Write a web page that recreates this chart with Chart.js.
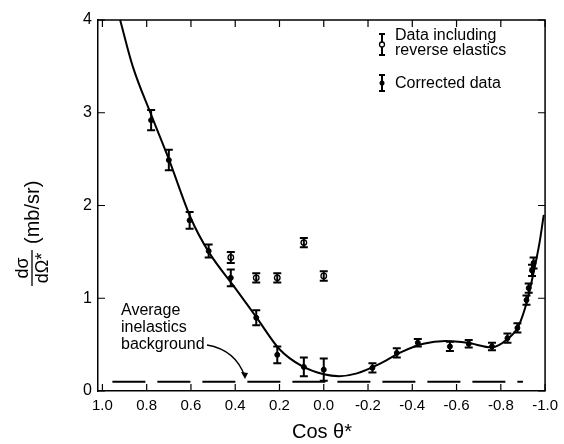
<!DOCTYPE html>
<html>
<head>
<meta charset="utf-8">
<script src="https://cdn.jsdelivr.net/npm/chart.js@4.4.0/dist/chart.umd.min.js"></script>
<style>
  html, body { margin: 0; padding: 0; background: #fff; }
  #wrap { width: 564px; height: 444px; position: relative; }
</style>
</head>
<body>
<div id="wrap"><canvas id="c" width="564" height="444"></canvas></div>
<script>
// corrected data (filled points)
const corrCos = [0.78, 0.70, 0.606, 0.52, 0.42, 0.305, 0.21, 0.09, 0.0, -0.22, -0.33, -0.425, -0.57, -0.655, -0.76, -0.83, -0.875, -0.916, -0.926, -0.941, -0.948];
const corrVal = [2.92, 2.49, 1.84, 1.51, 1.22, 0.79, 0.39, 0.26, 0.23, 0.25, 0.41, 0.52, 0.48, 0.51, 0.48, 0.57, 0.68, 0.98, 1.11, 1.30, 1.38];
const corrErr = [0.11, 0.11, 0.09, 0.07, 0.09, 0.08, 0.09, 0.10, 0.12, 0.05, 0.05, 0.04, 0.05, 0.04, 0.04, 0.05, 0.05, 0.05, 0.05, 0.06, 0.06];

// data including reverse elastics (open points)
const revCos = [0.42, 0.305, 0.21, 0.09, 0.0];
const revVal = [1.44, 1.22, 1.22, 1.60, 1.24];
const revErr = [0.06, 0.05, 0.05, 0.05, 0.05];

// fitted curve
const fitCos = [0.92, 0.863, 0.78, 0.70, 0.60, 0.52, 0.40, 0.30, 0.20, 0.10, 0.0, -0.07, -0.15, -0.25, -0.35, -0.45, -0.55, -0.65, -0.76, -0.83, -0.88, -0.92, -0.95, -0.975, -0.994];
const fitVal = [4.0, 3.50, 2.98, 2.50, 1.86, 1.50, 1.11, 0.78, 0.45, 0.27, 0.18, 0.16, 0.19, 0.29, 0.42, 0.51, 0.54, 0.52, 0.47, 0.56, 0.70, 0.98, 1.30, 1.60, 1.90];

// average inelastics background
const bgCos = [0.955, -0.90];
const bgVal = [0.10, 0.10];

const xTicks = [1.0, 0.8, 0.6, 0.4, 0.2, 0.0, -0.2, -0.4, -0.6, -0.8, -1.0];
const yTicks = [0, 1, 2, 3, 4];

const FONT = '"Liberation Sans", "DejaVu Sans", sans-serif';

function pts(xs, ys) { return xs.map((x, i) => ({ x: x, y: ys[i] })); }

// error bars + inward ticks + labels
const extras = {
  id: 'extras',
  afterDatasetsDraw(chart) {
    const ctx = chart.ctx, xs = chart.scales.x, ys = chart.scales.y, a = chart.chartArea;
    ctx.save();
    ctx.strokeStyle = '#000';
    ctx.lineWidth = 2;
    function bars(cs, vs, es) {
      cs.forEach((c, i) => {
        const px = xs.getPixelForValue(c);
        const t = ys.getPixelForValue(vs[i] + es[i]);
        const b = ys.getPixelForValue(vs[i] - es[i]);
        ctx.beginPath();
        ctx.moveTo(px, t); ctx.lineTo(px, b);
        ctx.moveTo(px - 4, t); ctx.lineTo(px + 4, t);
        ctx.moveTo(px - 4, b); ctx.lineTo(px + 4, b);
        ctx.stroke();
      });
    }
    bars(corrCos, corrVal, corrErr);
    bars(revCos, revVal, revErr);

    // inward ticks
    ctx.lineWidth = 1.2;
    ctx.beginPath();
    xTicks.forEach(v => {
      const px = xs.getPixelForValue(v);
      ctx.moveTo(px, a.bottom); ctx.lineTo(px, a.bottom - 7);
      ctx.moveTo(px, a.top); ctx.lineTo(px, a.top + 7);
    });
    yTicks.forEach(v => {
      const py = ys.getPixelForValue(v);
      ctx.moveTo(a.left, py); ctx.lineTo(a.left + 7, py);
      ctx.moveTo(a.right, py); ctx.lineTo(a.right - 7, py);
    });
    ctx.stroke();

    // legend
    ctx.fillStyle = '#000';
    ctx.font = '16px ' + FONT;
    ctx.textBaseline = 'alphabetic';
    ctx.fillText('Data including', 395, 40);
    ctx.fillText('reverse elastics', 395, 55);
    ctx.fillText('Corrected data', 395, 88);
    ctx.lineWidth = 2;
    function glyph(x, y1, y2, open) {
      ctx.beginPath();
      ctx.moveTo(x, y1); ctx.lineTo(x, y2);
      ctx.moveTo(x - 3, y1); ctx.lineTo(x + 3, y1);
      ctx.moveTo(x - 3, y2); ctx.lineTo(x + 3, y2);
      ctx.stroke();
      ctx.beginPath();
      ctx.arc(x, (y1 + y2) / 2, 2.5, 0, Math.PI * 2);
      if (open) { ctx.fillStyle = '#fff'; ctx.fill(); ctx.lineWidth = 1.3; ctx.stroke(); ctx.lineWidth = 2; }
      else { ctx.fillStyle = '#000'; ctx.fill(); }
    }
    glyph(382, 34, 55, true);
    glyph(382, 75, 91, false);

    ctx.fillStyle = '#000';
    ctx.font = '16px ' + FONT;
    ctx.fillText('Average', 121, 315);
    ctx.fillText('inelastics', 121, 332);
    ctx.fillText('background', 121, 349);
    // arrow to background line
    ctx.lineWidth = 1.3;
    ctx.beginPath();
    ctx.moveTo(207, 345);
    ctx.quadraticCurveTo(236, 350, 245, 377);
    ctx.stroke();
    ctx.beginPath();
    ctx.moveTo(245, 379); ctx.lineTo(241, 372); ctx.lineTo(248, 373); ctx.closePath();
    ctx.fill();

    // x axis title
    ctx.font = '20px ' + FONT;
    ctx.textAlign = 'center';
    ctx.fillText('Cos \u03b8*', 322, 438);

    // y axis title, rotated
    ctx.translate(32, 226);
    ctx.rotate(-Math.PI / 2);
    ctx.font = '18px ' + FONT;
    ctx.textAlign = 'center';
    ctx.fillText('d\u03c3', -42, -4);
    ctx.fillText('d\u03a9*', -42, 16);
    ctx.lineWidth = 1.3;
    ctx.beginPath(); ctx.moveTo(-60, 0); ctx.lineTo(-24, 0); ctx.stroke();
    ctx.textAlign = 'left';
    ctx.font = '20px ' + FONT;
    ctx.fillText('(mb/sr)', -18, 7);
    ctx.restore();
  }
};

const ctx = document.getElementById('c').getContext('2d');
new Chart(ctx, {
  type: 'scatter',
  data: {
    datasets: [
      {
        label: 'Fit',
        data: pts(fitCos, fitVal),
        showLine: true,
        borderColor: '#000',
        borderWidth: 2,
        pointRadius: 0,
        tension: 0.4,
        cubicInterpolationMode: 'monotone'
      },
      {
        label: 'Average inelastics background',
        data: pts(bgCos, bgVal),
        showLine: true,
        borderColor: '#000',
        borderWidth: 2,
        borderDash: [33, 12],
        pointRadius: 0
      },
      {
        label: 'Corrected data',
        data: pts(corrCos, corrVal),
        pointRadius: 2.5,
        pointBackgroundColor: '#000',
        pointBorderColor: '#000'
      },
      {
        label: 'Data including reverse elastics',
        data: pts(revCos, revVal),
        pointRadius: 2.8,
        pointBackgroundColor: '#fff',
        pointBorderColor: '#000',
        pointBorderWidth: 1.3
      }
    ]
  },
  options: {
    responsive: false,
    animation: false,
    clip: false,
    layout: { padding: { top: 20, right: 9, left: 0, bottom: 0 } },
    plugins: { legend: { display: false }, tooltip: { enabled: false } },
    scales: {
      x: {
        type: 'linear',
        min: -1.0,
        max: 1.02,
        reverse: true,
        afterFit(s) { s.height = 53; },
        afterBuildTicks(s) { s.ticks = xTicks.map(v => ({ value: v })); },
        grid: { display: false, drawTicks: false },
        border: { display: true, color: '#000', width: 1.5 },
        ticks: {
          color: '#000',
          padding: 6,
          maxRotation: 0,
          font: { family: FONT, size: 15 },
          callback: v => v.toFixed(1)
        }
      },
      y: {
        type: 'linear',
        min: 0,
        max: 4,
        afterFit(s) { s.width = 98; },
        afterBuildTicks(s) { s.ticks = yTicks.map(v => ({ value: v })); },
        grid: { display: false, drawTicks: false },
        border: { display: true, color: '#000', width: 1.5 },
        ticks: {
          color: '#000',
          padding: 6,
          font: { family: FONT, size: 16 }
        }
      }
    }
  },
  plugins: [extras, {
    id: 'frame',
    afterDraw(chart) {
      const c = chart.ctx, a = chart.chartArea;
      c.save();
      c.strokeStyle = '#000';
      c.lineWidth = 1.5;
      c.beginPath();
      c.moveTo(a.left, a.top); c.lineTo(a.right, a.top); c.lineTo(a.right, a.bottom);
      c.stroke();
      c.restore();
    }
  }]
});
</script>
</body>
</html>
